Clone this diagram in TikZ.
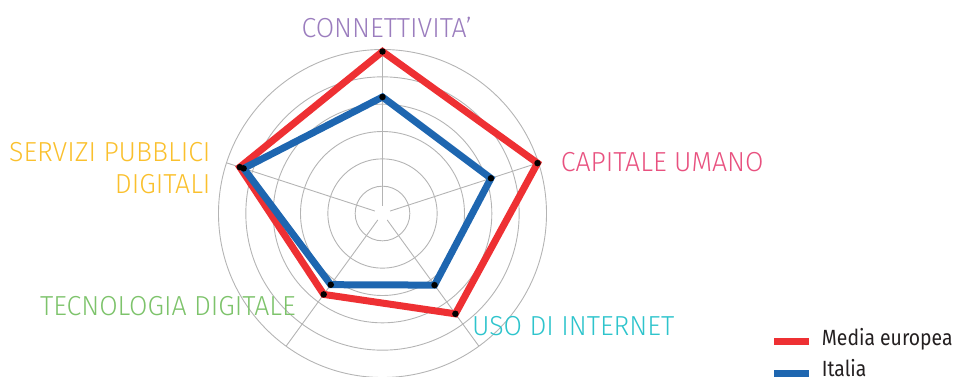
\documentclass[tikz,border=0pt]{standalone}
\usepackage{fontspec}
\setmainfont{Fira Sans Light}[FakeStretch=0.97]
\newfontfamily\legendfont{Fira Sans}[FakeStretch=0.88]
\definecolor{gridgray}{RGB}{180,180,180}
\definecolor{redline}{RGB}{238,48,51}
\definecolor{blueline}{RGB}{30,102,176}
\definecolor{cpurple}{RGB}{155,125,190}
\definecolor{cpink}{RGB}{232,81,127}
\definecolor{cyellow}{RGB}{250,192,45}
\definecolor{cgreen}{RGB}{125,195,107}
\definecolor{cteal}{RGB}{46,196,204}
\definecolor{legendtext}{RGB}{35,31,32}
\begin{document}
\begin{tikzpicture}[x=1pt,y=1pt,
  gridline/.style={draw=gridgray,line width=0.9pt},
  series/.style={line width=7pt,line join=miter},
  vdot/.style={circle,fill=black,inner sep=0pt,minimum size=6.5pt},
  axislabel/.style={inner sep=0pt,font=\fontsize{27.5}{33}\selectfont},
  legendlabel/.style={inner sep=0pt,text=legendtext,font=\legendfont\fontsize{22}{27}\selectfont},
  legendkey/.style={line width=7pt}]
\useasboundingbox (-382.5,-162.5) rectangle (573.5,213.5);
% grid
\foreach \r in {1,...,6} \draw[gridline] (0,0) circle ({\r*164/6});
\foreach \a in {90,18,-54,-126,162} \draw[gridline] (\a:8) -- (\a:164);
% data points
\coordinate (r1) at (90:162);
\coordinate (r2) at (18:163);
\coordinate (r3) at (-54:124);
\coordinate (r4) at (-126:100);
\coordinate (r5) at (162:150);
\coordinate (b1) at (90:116.5);
\coordinate (b2) at (18:114);
\coordinate (b3) at (-54:88.5);
\coordinate (b4) at (-126:88);
\coordinate (b5) at (162:146);
\draw[series,draw=redline] (r1) -- (r2) -- (r3) -- (r4) -- (r5) -- cycle;
\draw[series,draw=blueline] (b1) -- (b2) -- (b3) -- (b4) -- (b5) -- cycle;
\foreach \p in {r1,r2,r3,r4,r5,b1,b2,b3,b4,b5} \node[vdot] at (\p) {};
% axis labels
\node[axislabel,anchor=base,text=cpurple] (lconn) at (4.2,176.2) {CONNETTIVITA’};
\node[axislabel,anchor=base west,text=cpink] (lcap) at (178.2,42.5) {CAPITALE UMANO};
\node[axislabel,anchor=base east,text=cyellow] (lserv1) at (-171.8,51.8) {SERVIZI PUBBLICI};
\node[axislabel,anchor=base east,text=cyellow] (lserv2) at (-171.8,20.2) {DIGITALI};
\node[axislabel,anchor=base east,text=cgreen] (ltec) at (-86.5,-102.2) {TECNOLOGIA DIGITALE};
\node[axislabel,anchor=base west,text=cteal] (luso) at (89.5,-121.5) {USO DI INTERNET};
% legend
\coordinate (k1a) at (391.5,-128.2);
\coordinate (k1b) at (426.2,-128.2);
\coordinate (k2a) at (391.5,-159.5);
\coordinate (k2b) at (426.2,-159.5);
\draw[legendkey,draw=redline] (k1a) -- (k1b);
\draw[legendkey,draw=blueline] (k2a) -- (k2b);
\node[legendlabel,anchor=base west] (lmedia) at (439.2,-131.5) {Media europea};
\node[legendlabel,anchor=base west] (lital) at (439.2,-163) {Italia};
\end{tikzpicture}
\end{document}
